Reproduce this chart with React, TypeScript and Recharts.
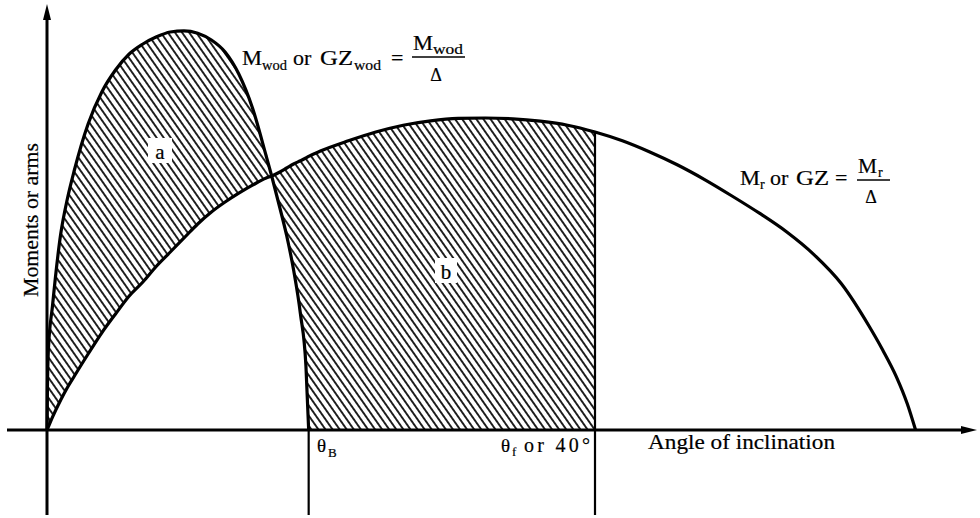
import React from "react";
import {
  ComposedChart,
  Line,
  Area,
  XAxis,
  YAxis,
  ReferenceLine,
} from "recharts";

// angle of inclination (deg) and the two curves (arbitrary units)
const angles = [
  0, 0.03, 0.1, 0.4, 1, 1.5, 2, 3, 4, 5, 6, 7, 8, 9, 10, 11, 12, 13, 14, 15, 16,
  16.4, 17, 17.5, 18, 18.5, 18.9, 19.1, 20, 22, 24, 26, 28, 30, 32, 34, 36, 38,
  40, 42, 44, 46, 48, 50, 52, 54, 56, 58, 60, 61, 62, 62.8, 63.4,
];
const heelingArm = [
  0, 10, 20, 31, 49, 58, 65, 76.5, 84.5, 90, 94, 96.5, 98.3, 99.5, 99.8, 99.2,
  97.5, 94.5, 89, 80.5, 68.5, 63.5, 55.5, 48.5, 40, 29, 16, 0,
];
const rightingArm = [
  0, 0.25, 0.8, 3.2, 7.5, 10.7, 13.5, 19, 24.3, 29, 33.5, 37, 41, 44.5, 48,
  51.5, 54.5, 57, 59.2, 61.2, 63, 63.5, 64.5, 65.5, 66.5, 67.3, 68, 68.4, 69.8,
  72.3, 74.5, 76.2, 77.3, 77.9, 78, 77.8, 77.2, 76.2, 74.5, 72.3, 69.5, 66.3,
  62.6, 58.5, 54.2, 49.5, 43.8, 36.5, 26, 20, 13.3, 6.5, 0,
];
const intersectAngle = 16.4;
const thetaB = 19.1;
const thetaF = 40;
const rightingAtThetaF = 74.5;

const data = angles.map((a, i) => ({
  angle: a,
  heel: i < heelingArm.length ? heelingArm[i] : null,
  righting: rightingArm[i],
}));

type Row = (typeof data)[number];

const areaA = (d: Row) =>
  d.angle <= intersectAngle ? [d.righting, d.heel ?? 0] : null;
const areaB = (d: Row) =>
  d.angle >= intersectAngle && d.angle <= thetaF
    ? [d.heel ?? 0, d.righting]
    : null;

const serif = "'Liberation Serif', 'DejaVu Serif', serif";

function ArrowX(p: any) {
  const { x1, x2, y1 } = p;
  const tip = Math.max(x1, x2);
  const start = Math.min(x1, x2);
  return (
    <g>
      <line x1={start} y1={y1} x2={tip - 8} y2={y1} stroke="#000" strokeWidth={3} />
      <polygon points={`${tip},${y1} ${tip - 16},${y1 - 4} ${tip - 16},${y1 + 4}`} fill="#000" />
    </g>
  );
}

function ArrowY(p: any) {
  const { x1, y1, y2 } = p;
  const tip = Math.min(y1, y2);
  const end = Math.max(y1, y2);
  return (
    <g>
      <line x1={x1} y1={end} x2={x1} y2={tip + 8} stroke="#000" strokeWidth={3} />
      <polygon points={`${x1},${tip} ${x1 - 4},${tip + 16} ${x1 + 4},${tip + 16}`} fill="#000" />
    </g>
  );
}

// piece of text, optionally stretched to the width it has in the scan
function T({ x, y, s, w, adjust, children, anchor }: any) {
  return (
    <text
      x={x}
      y={y}
      fontSize={s}
      textAnchor={anchor}
      textLength={w}
      lengthAdjust={w ? adjust ?? "spacingAndGlyphs" : undefined}
    >
      {children}
    </text>
  );
}

function Labels() {
  return (
    <svg
      width={980}
      height={518}
      style={{ position: "absolute", left: 0, top: 0, pointerEvents: "none" }}
      fontFamily={serif}
    >
      {/* cleared boxes behind area labels */}
      <rect x={148} y={138} width={24} height={25} fill="#fff" />
      <rect x={435} y={258} width={22} height={25} fill="#fff" />

      <g fill="#000" stroke="#000" strokeWidth={0.2}>
        <T x={160} y={159} s={21} anchor="middle">a</T>
        <T x={446} y={279} s={21} anchor="middle">b</T>

        {/* heeling curve formula */}
        <T x={242} y={65} s={22} w={20}>M</T>
        <T x={262} y={70} s={14} w={25}>wod</T>
        <T x={293} y={65} s={22}>or</T>
        <T x={320} y={65} s={22} w={33}>GZ</T>
        <T x={354} y={70} s={14} w={27}>wod</T>
        <T x={391} y={65} s={22}>=</T>
        <T x={413} y={50} s={22} w={20}>M</T>
        <T x={433} y={54} s={14} w={30}>wod</T>
        <T x={436} y={81} s={18} anchor="middle">Δ</T>

        {/* righting curve formula */}
        <T x={740} y={185} s={22} w={20}>M</T>
        <T x={760} y={189} s={14}>r</T>
        <T x={770} y={185} s={22}>or</T>
        <T x={796} y={185} s={22} w={33}>GZ</T>
        <T x={835} y={185} s={22}>=</T>
        <T x={858} y={173} s={22} w={19}>M</T>
        <T x={878} y={177} s={14}>r</T>
        <T x={871} y={203} s={18} anchor="middle">Δ</T>

        {/* angle markers */}
        <T x={317} y={452} s={19}>θ</T>
        <T x={328} y={457} s={13}>B</T>
        <T x={501} y={452} s={19}>θ</T>
        <T x={512} y={456} s={13}>f</T>
        <T x={524} y={452} s={20} w={66} adjust="spacing">or 40°</T>

        {/* axis titles */}
        <T x={648} y={449} s={21} w={187}>Angle of inclination</T>
        <text
          x={38}
          y={220}
          fontSize={20}
          textAnchor="middle"
          textLength={154}
          lengthAdjust="spacingAndGlyphs"
          transform="rotate(-90, 38, 220)"
        >
          Moments or arms
        </text>
      </g>
      <line x1={412} y1={57} x2={465} y2={57} stroke="#000" strokeWidth={1.5} />
      <line x1={857} y1={180} x2={890} y2={180} stroke="#000" strokeWidth={1.5} />
    </svg>
  );
}

export default function App() {
  return (
    <div style={{ position: "absolute", left: 0, top: 0, width: 980, height: 518, background: "#fff" }}>
      <ComposedChart
        width={980}
        height={518}
        data={data}
        margin={{ top: 4, right: 3, bottom: 3, left: 7 }}
      >
        <defs>
          <pattern
            id="hatch"
            patternUnits="userSpaceOnUse"
            width={5.8}
            height={12}
            patternTransform="rotate(-35)"
          >
            <line x1={2.9} y1={0} x2={2.9} y2={12} stroke="#000" strokeWidth={1.7} />
          </pattern>
        </defs>
        <XAxis
          type="number"
          dataKey="angle"
          domain={[-2.9197, 67.883]}
          allowDataOverflow
          hide
        />
        <YAxis type="number" domain={[-21.25, 106.5]} allowDataOverflow hide />

        <Area
          dataKey={areaA}
          type="monotone"
          stroke="none"
          fill="url(#hatch)"
          fillOpacity={1}
          isAnimationActive={false}
          activeDot={false}
        />
        <Area
          dataKey={areaB}
          type="monotone"
          stroke="none"
          fill="url(#hatch)"
          fillOpacity={1}
          isAnimationActive={false}
          activeDot={false}
        />

        <ReferenceLine y={0} shape={ArrowX} />
        <ReferenceLine x={0} shape={ArrowY} />
        <ReferenceLine
          segment={[
            { x: thetaB, y: 0 },
            { x: thetaB, y: -21.25 },
          ]}
          stroke="#000"
          strokeWidth={2.2}
        />
        <ReferenceLine
          segment={[
            { x: thetaF, y: rightingAtThetaF },
            { x: thetaF, y: -21.25 },
          ]}
          stroke="#000"
          strokeWidth={2.2}
        />

        <Line
          dataKey="heel"
          type="monotone"
          stroke="#000"
          strokeWidth={3.2}
          dot={false}
          activeDot={false}
          isAnimationActive={false}
        />
        <Line
          dataKey="righting"
          type="monotone"
          stroke="#000"
          strokeWidth={3.2}
          dot={false}
          activeDot={false}
          isAnimationActive={false}
        />
      </ComposedChart>
      <Labels />
    </div>
  );
}
